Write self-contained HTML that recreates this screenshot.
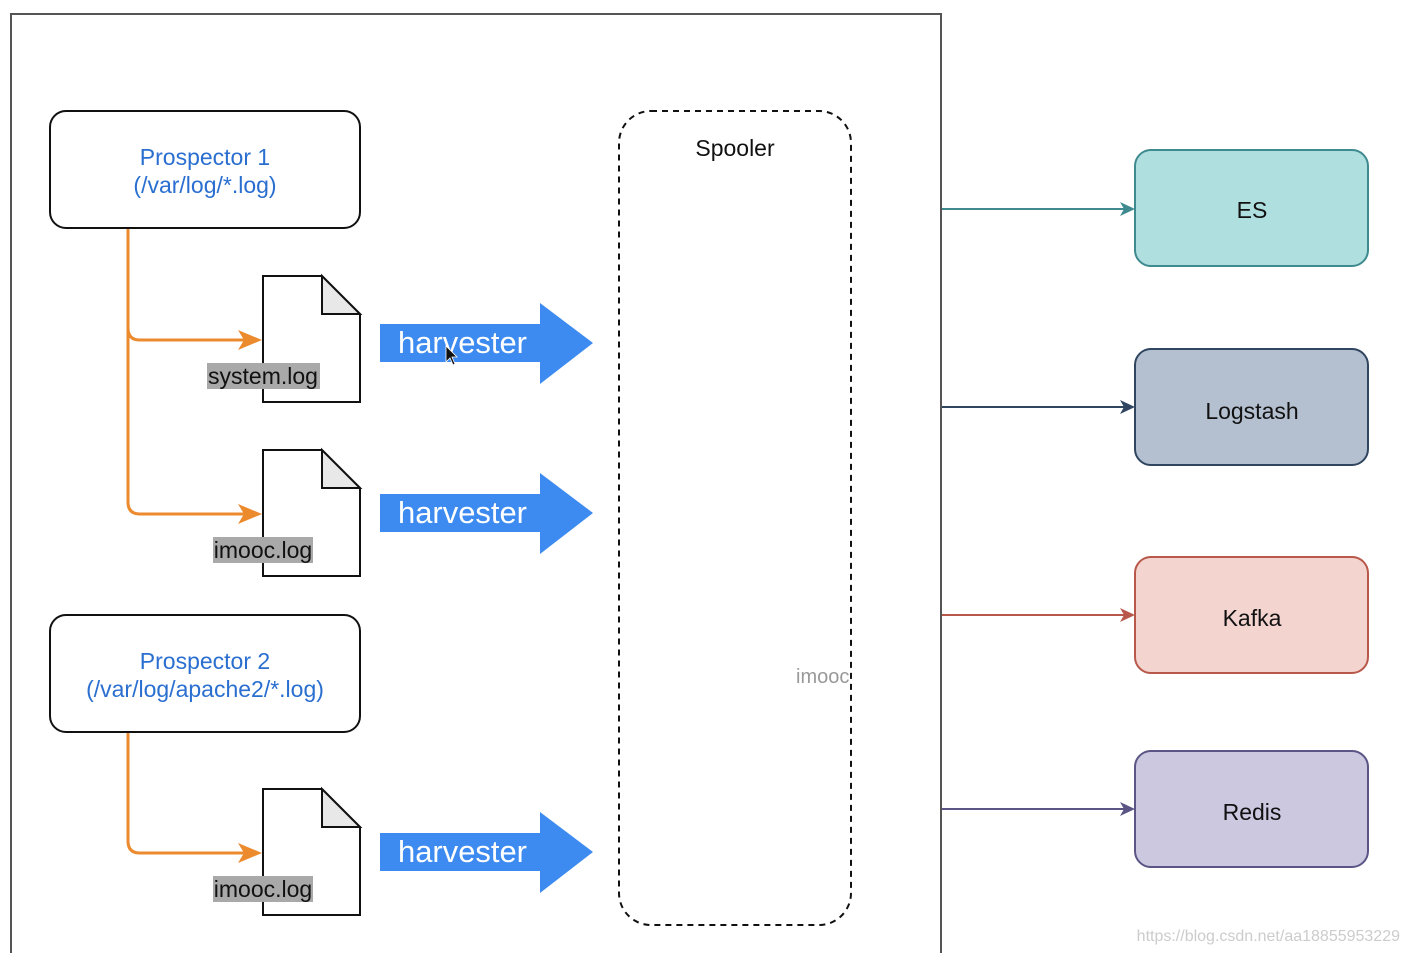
<!DOCTYPE html>
<html><head><meta charset="utf-8"><style>
html,body{margin:0;padding:0;background:#fff;}
svg{display:block;font-family:"Liberation Sans",Arial,sans-serif;}
</style></head><body>
<svg width="1409" height="953" viewBox="0 0 1409 953" xmlns="http://www.w3.org/2000/svg">
<rect x="11" y="14" width="930" height="960" fill="#fff" stroke="#555" stroke-width="2"/>

<rect x="50" y="111" width="310" height="117" rx="16" fill="#fff" stroke="#111" stroke-width="2"/>
<text x="205" y="165" font-size="23" fill="#2a6fd0" text-anchor="middle">Prospector 1</text>
<text x="205" y="193" font-size="23" fill="#2a6fd0" text-anchor="middle">(/var/log/*.log)</text>
<rect x="50" y="615" width="310" height="117" rx="16" fill="#fff" stroke="#111" stroke-width="2"/>
<text x="205" y="669" font-size="23" fill="#2a6fd0" text-anchor="middle">Prospector 2</text>
<text x="205" y="697" font-size="23" fill="#2a6fd0" text-anchor="middle">(/var/log/apache2/*.log)</text>

<g fill="none" stroke="#ec8a2e" stroke-width="3">
<path d="M128,229 V502 Q128,514 140,514 H250"/>
<path d="M128,328 Q128,340 140,340 H250"/>
<path d="M128,733 V841 Q128,853 140,853 H250"/>
</g>
<g fill="#ec8a2e">
<path d="M238,330 L262,340 L238,350 L244,340Z"/>
<path d="M238,504 L262,514 L238,524 L244,514Z"/>
<path d="M238,843 L262,853 L238,863 L244,853Z"/>
</g>

<g stroke="#111" stroke-width="2">
<path d="M263,276 H322 L360,314 V402 H263 Z" fill="#fff"/>
<path d="M322,276 V314 H360 Z" fill="#e8e8e8"/>
<path d="M263,450 H322 L360,488 V576 H263 Z" fill="#fff"/>
<path d="M322,450 V488 H360 Z" fill="#e8e8e8"/>
<path d="M263,789 H322 L360,827 V915 H263 Z" fill="#fff"/>
<path d="M322,789 V827 H360 Z" fill="#e8e8e8"/>
</g>
<rect x="207" y="363" width="113" height="26" fill="#a9a9a9"/>
<text x="263" y="384" font-size="23" fill="#111" text-anchor="middle">system.log</text>
<rect x="213" y="537" width="100" height="26" fill="#a9a9a9"/>
<text x="263" y="558" font-size="23" fill="#111" text-anchor="middle">imooc.log</text>
<rect x="213" y="876" width="100" height="26" fill="#a9a9a9"/>
<text x="263" y="897" font-size="23" fill="#111" text-anchor="middle">imooc.log</text>

<g fill="#3d8bf0">
<path d="M380,324 H540 V303 L593,343 L540,384 V362 H380 Z"/>
<path d="M380,494 H540 V473 L593,513 L540,554 V532 H380 Z"/>
<path d="M380,833 H540 V812 L593,852 L540,893 V871 H380 Z"/>
</g>
<g fill="#fff" font-size="31">
<text x="398" y="353" textLength="129" lengthAdjust="spacingAndGlyphs">harvester</text>
<text x="398" y="523" textLength="129" lengthAdjust="spacingAndGlyphs">harvester</text>
<text x="398" y="862" textLength="129" lengthAdjust="spacingAndGlyphs">harvester</text>
</g>
<path d="M446,346 L446,362 L450,358 L453,365 L455,364 L452,357 L457,357 Z" fill="#111" stroke="#fff" stroke-width="0.8"/>

<rect x="619" y="111" width="232" height="814" rx="32" fill="none" stroke="#111" stroke-width="2" stroke-dasharray="6,5"/>
<text x="735" y="156" font-size="23" fill="#111" text-anchor="middle">Spooler</text>
<text x="796" y="683" font-size="20" fill="#999">imooc</text>

<g stroke-width="2">
<line x1="942" y1="209" x2="1130" y2="209" stroke="#3e8a8f"/>
<path d="M1120,202 L1135,209 L1120,216 L1124,209Z" fill="#3e8a8f" stroke="none"/>
<line x1="942" y1="407" x2="1130" y2="407" stroke="#2f4560"/>
<path d="M1120,400 L1135,407 L1120,414 L1124,407Z" fill="#2f4560" stroke="none"/>
<line x1="942" y1="615" x2="1130" y2="615" stroke="#b8584a"/>
<path d="M1120,608 L1135,615 L1120,622 L1124,615Z" fill="#b8584a" stroke="none"/>
<line x1="942" y1="809" x2="1130" y2="809" stroke="#5a5585"/>
<path d="M1120,802 L1135,809 L1120,816 L1124,809Z" fill="#5a5585" stroke="none"/>
<rect x="1135" y="150" width="233" height="116" rx="16" fill="#b0dfe0" stroke="#3e8a8f"/>
<rect x="1135" y="349" width="233" height="116" rx="16" fill="#b4c0d0" stroke="#2f4560"/>
<rect x="1135" y="557" width="233" height="116" rx="16" fill="#f3d4cf" stroke="#b8584a"/>
<rect x="1135" y="751" width="233" height="116" rx="16" fill="#cbc8e0" stroke="#5a5585"/>
</g>
<g font-size="23" fill="#111" text-anchor="middle">
<text x="1252" y="218">ES</text>
<text x="1252" y="419">Logstash</text>
<text x="1252" y="626">Kafka</text>
<text x="1252" y="820">Redis</text>
</g>
<text x="1400" y="941" font-size="16" fill="#ccc" text-anchor="end">https://blog.csdn.net/aa18855953229</text>
</svg>
</body></html>
